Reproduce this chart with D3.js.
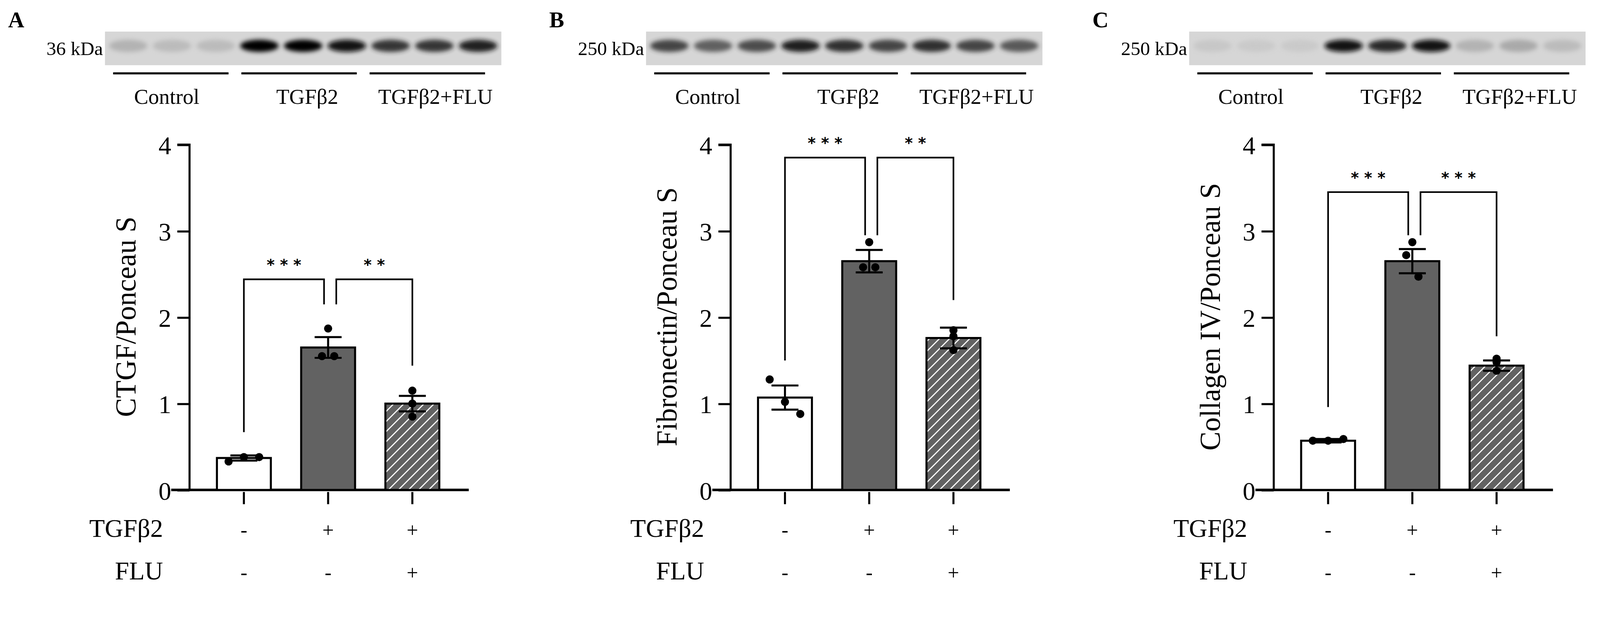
<!DOCTYPE html>
<html><head><meta charset="utf-8">
<script src="https://cdn.jsdelivr.net/npm/d3@7"></script>
<style>body{margin:0;background:#fff}</style>
</head><body>
<svg id="fig" width="4286" height="1593"></svg>
<script>
// groups and treatment rows
var groups = ["Control", "TGFβ2", "TGFβ2+FLU"];
var tgfRow = ["-", "+", "+"];
var fluRow = ["-", "-", "+"];
var yTicks = [0, 1, 2, 3, 4];

// panel A - CTGF
var meanA = [0.37, 1.65, 1.0];
var semA = [0.03, 0.12, 0.09];
var dotsA = [[0.33, 0.38, 0.38], [1.87, 1.55, 1.55], [1.15, 1.0, 0.85]];
var bandsA = [0.35, 0.3, 0.3, 1, 1, 0.95, 0.85, 0.85, 0.9];
// panel B - Fibronectin
var meanB = [1.07, 2.65, 1.76];
var semB = [0.14, 0.13, 0.12];
var dotsB = [[1.28, 1.02, 0.88], [2.87, 2.58, 2.58], [1.85, 1.78, 1.62]];
var bandsB = [0.8, 0.72, 0.78, 0.92, 0.86, 0.8, 0.86, 0.8, 0.74];
// panel C - Collagen IV
var meanC = [0.57, 2.65, 1.44];
var semC = [0.02, 0.14, 0.06];
var dotsC = [[0.57, 0.57, 0.59], [2.87, 2.72, 2.47], [1.52, 1.48, 1.38]];
var bandsC = [0.22, 0.2, 0.2, 0.95, 0.88, 0.95, 0.35, 0.4, 0.3];

var panels = [
  { letter: "A", ox: 0, ylab: "CTGF/Ponceau S", kda: "36 kDa", mean: meanA, sem: semA, dots: dotsA, bands: bandsA,
    stars: ["* * *", "* *"], brTop: 2.44, legs: [0.67, 2.15, 2.15, 1.44] },
  { letter: "B", ox: 531, ylab: "Fibronectin/Ponceau S", kda: "250 kDa", mean: meanB, sem: semB, dots: dotsB, bands: bandsB,
    stars: ["* * *", "* *"], brTop: 3.85, legs: [1.5, 2.95, 2.95, 2.2] },
  { letter: "C", ox: 1064, ylab: "Collagen IV/Ponceau S", kda: "250 kDa", mean: meanC, sem: semC, dots: dotsC, bands: bandsC,
    stars: ["* * *", "* * *"], brTop: 3.45, legs: [0.96, 2.95, 2.95, 1.78] }
];

var svg = d3.select("#fig");
var root = svg.append("g").attr("transform", "scale(" + (4286 / 1643) + ")");
var serif = "'Liberation Serif', 'DejaVu Serif', serif";

// hatch pattern + blur
var defs = svg.append("defs");
var pat = defs.append("pattern").attr("id", "hatch").attr("patternUnits", "userSpaceOnUse")
  .attr("width", 7).attr("height", 7).attr("patternTransform", "rotate(45)");
pat.append("rect").attr("width", 7).attr("height", 7).attr("fill", "#626262");
pat.append("line").attr("x1", 0).attr("y1", 0).attr("x2", 0).attr("y2", 7)
  .attr("stroke", "#fff").attr("stroke-width", 2.2);
defs.append("filter").attr("id", "blur").attr("x", "-30%").attr("y", "-60%").attr("width", "160%").attr("height", "220%")
  .append("feGaussianBlur").attr("stdDeviation", 2.2);

var y = d3.scaleLinear().domain([0, 4]).range([481, 142]);
var jitter = [[-15, 0, 15], [0, -6, 6], [0, 0, 0]];

panels.forEach(function (p) {
  var g = root.append("g").attr("transform", "translate(" + p.ox + ",0)");
  var x = d3.scaleBand().domain(groups).range([198, 446]).paddingInner(0.36).paddingOuter(0.18);

  g.append("text").attr("x", 8).attr("y", 27).text(p.letter)
    .attr("font-family", serif).attr("font-weight", "bold").attr("font-size", 22);

  // blot strip
  var bx0 = 103, bx1 = 492;
  g.append("rect").attr("x", bx0).attr("y", 31).attr("width", bx1 - bx0).attr("height", 33).attr("fill", "#d6d6d6");
  var lane = d3.scaleBand().domain(d3.range(9)).range([bx0 + 4, bx1 - 4]).paddingInner(0.12);
  g.selectAll(".band").data(p.bands).join("ellipse")
    .attr("cx", function (d, i) { return lane(i) + lane.bandwidth() / 2; })
    .attr("cy", 45).attr("rx", lane.bandwidth() / 2).attr("ry", 6)
    .attr("fill", function (d) { return d3.interpolateGreys(0.2 + 0.8 * d); })
    .attr("opacity", function (d) { return 0.4 + 0.6 * d; })
    .attr("filter", "url(#blur)");
  g.append("text").attr("x", bx0 - 2).attr("y", 54).attr("text-anchor", "end").text(p.kda)
    .attr("font-family", serif).attr("font-size", 19);
  var grp = d3.scaleBand().domain(groups).range([bx0 + 8, bx1 - 16]).paddingInner(0.1);
  groups.forEach(function (name) {
    g.append("line").attr("x1", grp(name)).attr("x2", grp(name) + grp.bandwidth())
      .attr("y1", 72).attr("y2", 72).attr("stroke", "#000").attr("stroke-width", 2);
    g.append("text").attr("x", grp(name) + grp.bandwidth() / 2 + (name === "Control" ? -4 : 8)).attr("y", 102)
      .attr("text-anchor", "middle").text(name).attr("font-family", serif).attr("font-size", 21);
  });

  // axes
  var ya = g.append("g").attr("transform", "translate(186,0)")
    .call(d3.axisLeft(y).tickValues(yTicks).tickSize(12).tickPadding(6).tickFormat(d3.format("d")));
  ya.select(".domain").attr("stroke-width", 2).attr("d", "M-12,142H0V481");
  ya.selectAll(".tick line").attr("stroke-width", 2);
  ya.selectAll("text").attr("font-family", serif).attr("font-size", 25).attr("dy", "0.36em");
  var xa = g.append("g").attr("transform", "translate(0,481)")
    .call(d3.axisBottom(x).tickSize(12).tickFormat(""));
  xa.select(".domain").attr("stroke-width", 2.5).attr("d", "M168,0H460");
  xa.selectAll(".tick line").attr("stroke-width", 2).attr("transform", "translate(0,2)");

  // bars
  var bw = x.bandwidth();
  g.selectAll(".bar").data(p.mean).join("rect")
    .attr("x", function (d, i) { return x(groups[i]); }).attr("width", bw)
    .attr("y", function (d) { return y(d); }).attr("height", function (d) { return y(0) - y(d); })
    .attr("fill", function (d, i) { return ["#fff", "#626262", "url(#hatch)"][i]; })
    .attr("stroke", "#000").attr("stroke-width", 2);

  // error bars and points
  p.mean.forEach(function (m, i) {
    var cx = x(groups[i]) + bw / 2, s = p.sem[i];
    g.append("path").attr("d", "M" + cx + "," + y(m - s) + "V" + y(m + s) +
      "M" + (cx - bw / 4) + "," + y(m + s) + "h" + (bw / 2) + "M" + (cx - bw / 4) + "," + y(m - s) + "h" + (bw / 2))
      .attr("stroke", "#000").attr("stroke-width", 2).attr("fill", "none");
    g.selectAll(null).data(p.dots[i]).join("circle")
      .attr("cx", function (d, j) { return cx + jitter[i][j]; })
      .attr("cy", function (d) { return y(d); }).attr("r", 4).attr("fill", "#000");
  });

  // significance brackets
  var c = groups.map(function (n) { return x(n) + bw / 2; });
  var brs = [[c[0], c[1] - 4, p.legs[0], p.legs[1]], [c[1] + 8, c[2], p.legs[2], p.legs[3]]];
  brs.forEach(function (b, k) {
    g.append("path").attr("d", "M" + b[0] + "," + y(b[2]) + "V" + y(p.brTop) + "H" + b[1] + "V" + y(b[3]))
      .attr("stroke", "#000").attr("stroke-width", 1.6).attr("fill", "none");
    g.append("text").attr("x", (b[0] + b[1]) / 2).attr("y", y(p.brTop) - 9).attr("text-anchor", "middle")
      .text(p.stars[k]).attr("font-family", "'DejaVu Sans', sans-serif").attr("font-weight", "bold").attr("font-size", 15);
  });

  // y label
  g.append("text").attr("transform", "translate(133,311) rotate(-90)").attr("text-anchor", "middle")
    .text(p.ylab).attr("font-family", serif).attr("font-size", 28);

  // treatment rows
  [["TGFβ2", tgfRow, 527], ["FLU", fluRow, 569]].forEach(function (r) {
    g.append("text").attr("x", 160).attr("y", r[2]).attr("text-anchor", "end").text(r[0])
      .attr("font-family", serif).attr("font-size", 25);
    g.selectAll(null).data(r[1]).join("text")
      .attr("x", function (d, i) { return c[i]; }).attr("y", r[2]).attr("text-anchor", "middle")
      .text(function (d) { return d; }).attr("font-family", serif).attr("font-size", 20);
  });
});
</script>
</body></html>
